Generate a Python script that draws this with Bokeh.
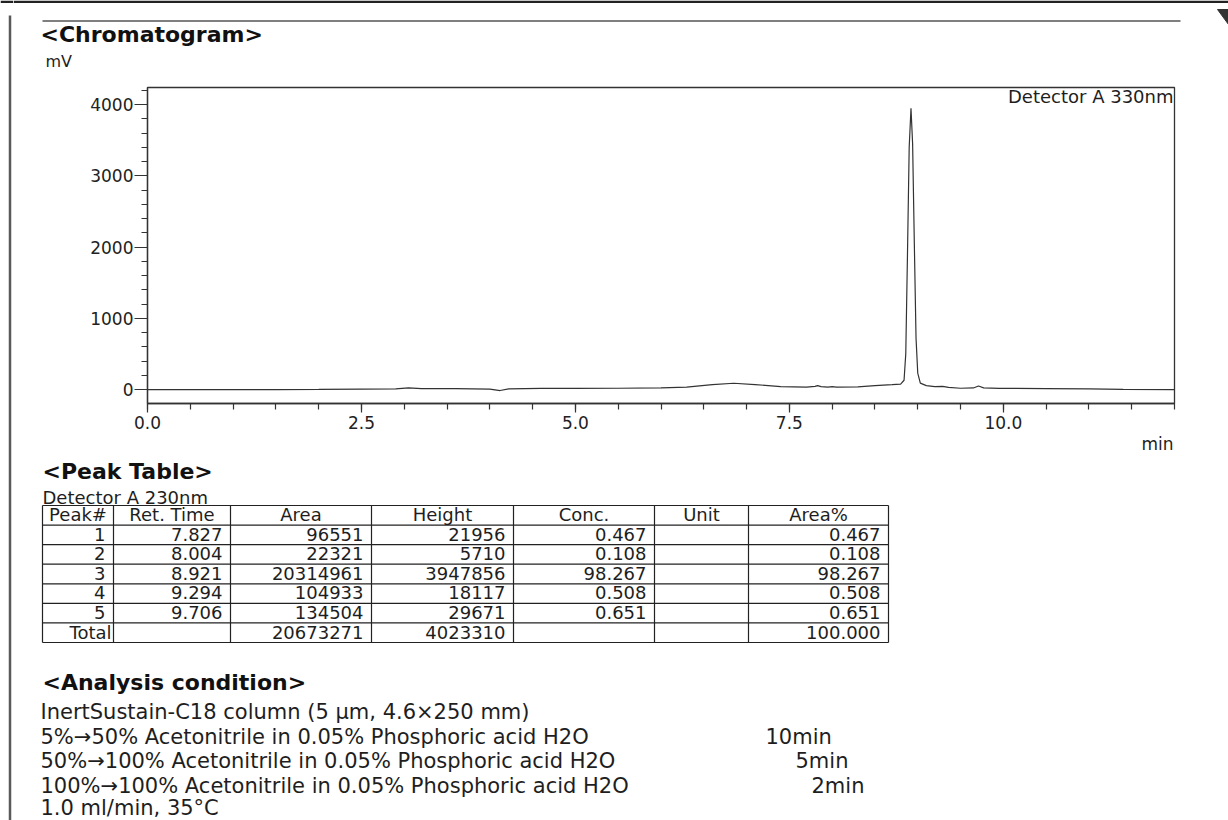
from bokeh.plotting import figure
from bokeh.layouts import row, column
from bokeh.models import (Range1d, SingleIntervalTicker, PrintfTickFormatter, Label, Title)
from bokeh.core.properties import value
from bokeh.embed import file_html
from bokeh.resources import INLINE

# ---------------- data ----------------
time_min = [0.00, 0.50, 1.00, 1.50, 2.00, 2.50, 2.90, 3.05, 3.20, 3.60, 4.00, 4.12, 4.22,
            4.60, 5.00, 5.50, 6.00, 6.30, 6.60, 6.85, 7.10, 7.40, 7.70, 7.80, 7.83, 7.87,
            7.95, 8.00, 8.05, 8.30, 8.50, 8.70, 8.80, 8.84, 8.86, 8.88, 8.90, 8.921, 8.94,
            8.96, 8.98, 9.00, 9.03, 9.10, 9.20, 9.29, 9.36, 9.50, 9.65, 9.71, 9.77, 9.95,
            10.50, 11.00, 11.40, 12.00]
signal_mv = [0, 0, 0, 0, 1, 5, 8, 22, 12, 12, 5, -14, 10,
             16, 17, 18, 22, 35, 70, 88, 70, 42, 33, 45, 55, 40,
             34, 40, 34, 38, 55, 68, 76, 130, 500, 1900, 3400, 3948, 3450,
             2050, 720, 230, 90, 55, 40, 45, 30, 18, 22, 50, 24, 17,
             12, 8, 3, 0]

chrom_detector = "Detector A 330nm"
table_detector = "Detector A 230nm"

table_headers = ["Peak#", "Ret. Time", "Area", "Height", "Conc.", "Unit", "Area%"]
peak_no = [1, 2, 3, 4, 5]
ret_time = [7.827, 8.004, 8.921, 9.294, 9.706]
area = [96551, 22321, 20314961, 104933, 134504]
height = [21956, 5710, 3947856, 18117, 29671]
conc = [0.467, 0.108, 98.267, 0.508, 0.651]
area_pct = [0.467, 0.108, 98.267, 0.508, 0.651]
total_area = 20673271
total_height = 4023310
total_area_pct = 100.000

cond_lines = ["InertSustain-C18 column (5 \u00b5m, 4.6\u00d7250 mm)",
              "5%\u219250% Acetonitrile in 0.05% Phosphoric acid H2O",
              "50%\u2192100% Acetonitrile in 0.05% Phosphoric acid H2O",
              "100%\u2192100% Acetonitrile in 0.05% Phosphoric acid H2O",
              "1.0 ml/min, 35\u00b0C"]
cond_times = ["", "10min", "5min", "2min", ""]

# ---------------- layout constants (page pixels) ----------------
FONT = "DejaVu Sans"
INK = "#1e1e1e"
PAGE_H = 820
BAR_W = 13
COL_X0 = BAR_W
COL_W = 1215
HEAD_H = 75
CHROM_TOP, CHROM_FRAME_H, CHROM_BOT = 12, 316, 56
CHROM_H = CHROM_TOP + CHROM_FRAME_H + CHROM_BOT
TABLE_H = PAGE_H - HEAD_H - CHROM_H
BASE_SHIFT = 0.41   # alphabetic baseline correction (em)


def canvas(y_top, h):
    p = figure(width=COL_W, height=h,
               x_range=Range1d(COL_X0, COL_X0 + COL_W),
               y_range=Range1d(y_top + h, y_top),
               x_axis_location=None, y_axis_location=None,
               toolbar_location=None, output_backend="svg", min_border=0,
               outline_line_color=None, background_fill_color="white",
               border_fill_color="white")
    p.grid.visible = False
    p.frame_align = False
    return p


def put_text(p, x, y, s, size, bold=False, align="left", color=INK):
    p.text(x=[x], y=[y - BASE_SHIFT * size], text=[s], text_font=value(FONT),
           text_font_size=value(f"{size}px"),
           text_font_style="bold" if bold else "normal",
           text_align=align, text_baseline="alphabetic", text_color=color)


# ---------------- left bar ----------------
bar = figure(width=BAR_W, height=PAGE_H, x_range=Range1d(0, BAR_W), y_range=Range1d(PAGE_H, 0),
             x_axis_location=None, y_axis_location=None, toolbar_location=None,
             output_backend="svg", min_border=0, outline_line_color=None)
bar.grid.visible = False
bar.frame_align = False
bar.segment(x0=[9.5], y0=[15], x1=[9.5], y1=[PAGE_H], line_color="#5a5a5a", line_width=2.5)
bar.segment(x0=[0], y0=[1.2], x1=[BAR_W], y1=[1.2], line_color="#222222", line_width=2.4)

# ---------------- header ----------------
head = canvas(0, HEAD_H)
head.segment(x0=[COL_X0], y0=[1.2], x1=[COL_X0 + COL_W], y1=[1.2], line_color="#222222", line_width=2.4)
head.segment(x0=[42], y0=[20.5], x1=[1180], y1=[20.5], line_color="#555555", line_width=1.5)
head.patch(x=[1217, 1228, 1228], y=[9, 9, 24], fill_color="#333333", line_color="#333333")
put_text(head, 40, 43, "<Chromatogram>", 22, bold=True, color="#111111")
put_text(head, 45, 68, "mV", 16)

# ---------------- chromatogram ----------------
chrom = figure(frame_width=1027, frame_height=CHROM_FRAME_H,
               x_range=Range1d(0, 12), y_range=Range1d(-196, 4239),
               min_border_left=147 - COL_X0, min_border_right=COL_W - (147 - COL_X0) - 1027,
               min_border_top=CHROM_TOP, min_border_bottom=CHROM_BOT,
               toolbar_location=None, output_backend="svg",
               background_fill_color="white", border_fill_color="white")
chrom.frame_align = False
chrom.grid.visible = False
chrom.outline_line_color = "#333333"
chrom.outline_line_width = 1.3
chrom.outline_line_alpha = 1.0
chrom.line(time_min, signal_mv, line_color="#333333", line_width=1.2)

chrom.xaxis.ticker = SingleIntervalTicker(interval=2.5, num_minor_ticks=5)
chrom.yaxis.ticker = SingleIntervalTicker(interval=1000, num_minor_ticks=5)
chrom.xaxis.formatter = PrintfTickFormatter(format="%.1f")
chrom.yaxis.formatter = PrintfTickFormatter(format="%d")
for ax in (chrom.xaxis[0], chrom.yaxis[0]):
    ax.axis_line_color = "#333333"
    ax.axis_line_width = 1.3
    ax.major_tick_line_color = "#333333"
    ax.minor_tick_line_color = "#333333"
    ax.major_tick_line_width = 1.2
    ax.minor_tick_line_width = 1.2
    ax.major_tick_in = 0
    ax.minor_tick_in = 0
    ax.major_label_text_font = FONT
    ax.major_label_text_font_size = "17px"
    ax.major_label_text_color = "#222222"
chrom.xaxis.major_tick_out = 9
chrom.xaxis.minor_tick_out = 6
chrom.xaxis.major_label_standoff = 3
chrom.yaxis.major_tick_out = 13
chrom.yaxis.minor_tick_out = 6
chrom.yaxis.major_label_standoff = 1

# x-axis unit, right-aligned under the axis
chrom.add_layout(Title(text="min", align="right", text_font=FONT, text_font_size="17px",
                       text_font_style="normal", text_color=INK, standoff=0, offset=1),
                 "below")

# detector label: baseline at page y=103 inside the frame
det_y = 4239 - (103 - 87 - BASE_SHIFT * 18) * (4239 + 196) / CHROM_FRAME_H
chrom.add_layout(Label(x=12, y=det_y, text=chrom_detector, text_align="right",
                       text_baseline="alphabetic", x_offset=-1, text_font=FONT,
                       text_font_size="18px", text_color=INK))

# ---------------- peak table + analysis condition ----------------
TBL_Y0 = HEAD_H + CHROM_H
tab = canvas(TBL_Y0, TABLE_H)
put_text(tab, 42, 480, "<Peak Table>", 22, bold=True, color="#111111")
put_text(tab, 42, 504, table_detector, 18)

col_edges = [42, 113, 230, 371, 513, 654, 748, 888]
row_top = 505
row_h = 19.57
n_rows = len(peak_no) + 2
row_edges = [row_top + i * row_h for i in range(n_rows + 1)]

tab.segment(x0=col_edges, y0=[row_edges[0]] * len(col_edges),
            x1=col_edges, y1=[row_edges[-1]] * len(col_edges),
            line_color="#222222", line_width=1.2)
tab.segment(x0=[col_edges[0]] * len(row_edges), y0=row_edges,
            x1=[col_edges[-1]] * len(row_edges), y1=row_edges,
            line_color="#222222", line_width=1.2)

TS = 18
for j, h in enumerate(table_headers):
    cx = (col_edges[j] + col_edges[j + 1]) / 2
    put_text(tab, cx, row_edges[1] - 3, h, TS, align="center")

rows = []
for i in range(len(peak_no)):
    rows.append([str(peak_no[i]), f"{ret_time[i]:.3f}", str(area[i]), str(height[i]),
                 f"{conc[i]:.3f}", "", f"{area_pct[i]:.3f}"])
for i, r in enumerate(rows):
    base = row_edges[i + 2] - 3
    for j, s in enumerate(r):
        if s:
            put_text(tab, col_edges[j + 1] - 8, base, s, TS, align="right")

tot_base = row_edges[-1] - 3
put_text(tab, col_edges[1] - 2, tot_base, "Total", TS, align="right")
put_text(tab, col_edges[3] - 8, tot_base, str(total_area), TS, align="right")
put_text(tab, col_edges[4] - 8, tot_base, str(total_height), TS, align="right")
put_text(tab, col_edges[7] - 8, tot_base, f"{total_area_pct:.3f}", TS, align="right")

put_text(tab, 42, 691, "<Analysis condition>", 22, bold=True, color="#111111")
cond_base = [720, 745, 769, 794, 816]
time_x = [0, 765, 795, 811, 0]
for i, s in enumerate(cond_lines):
    put_text(tab, 40, cond_base[i], s, 21)
    if cond_times[i]:
        put_text(tab, time_x[i], cond_base[i], cond_times[i], 21)

layout = row(bar, column(head, chrom, tab, spacing=0), spacing=0)

with open("out.html", "w", encoding="utf-8") as f:
    f.write(file_html(layout, INLINE, title="Chromatogram"))
